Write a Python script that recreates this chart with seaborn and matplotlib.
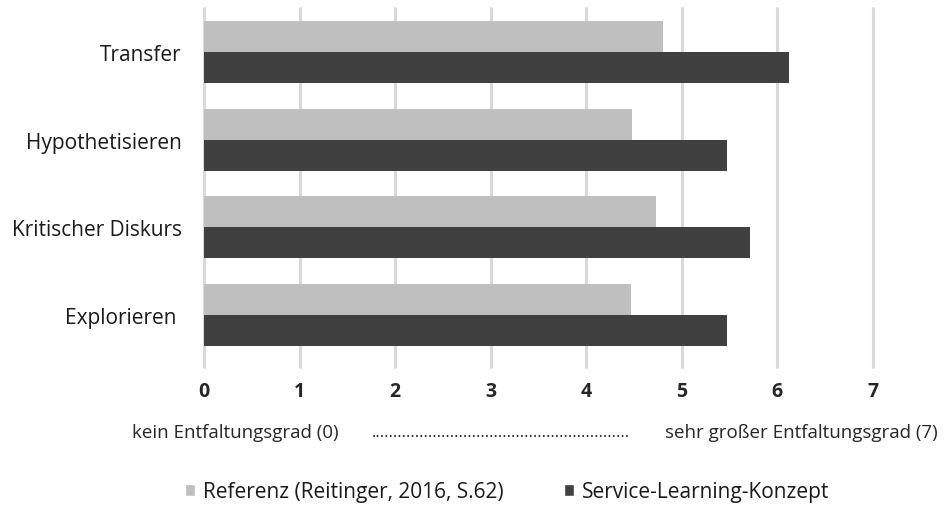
import matplotlib
matplotlib.use("Agg")
import matplotlib.pyplot as plt
import seaborn as sns
import pandas as pd
from matplotlib.patches import Patch

categories = ["Transfer", "Hypothetisieren", "Kritischer Diskurs", "Explorieren "]
series_names = ["Referenz (Reitinger, 2016, S.62)", "Service-Learning-Konzept"]
referenz = [4.80, 4.48, 4.73, 4.47]
service = [6.12, 5.47, 5.71, 5.47]
x_ticks = [0, 1, 2, 3, 4, 5, 6, 7]
colors = ["#BFBFBF", "#404040"]

rows = []
for c, v in zip(categories, referenz):
    rows.append({"cat": c, "val": v, "series": series_names[0]})
for c, v in zip(categories, service):
    rows.append({"cat": c, "val": v, "series": series_names[1]})
df = pd.DataFrame(rows)

sns.set_style("white")
plt.rcParams["font.family"] = ["Open Sans", "DejaVu Sans"]

fig = plt.figure(figsize=(9.46, 5.10), dpi=100)
ax = fig.add_axes([204/946, 1 - 368/510, (873 - 204)/946, (368 - 9)/510])

sns.barplot(data=df, y="cat", x="val", hue="series", order=categories,
            hue_order=series_names, palette=colors, orient="h",
            width=0.707, ax=ax, legend=False, saturation=1, linewidth=0)

ax.set_xlim(0, 7)
ax.set_ylim(3.5 + 8/87.7, -0.5)
ax.set_xticks(x_ticks)
ax.set_xticklabels([str(t) for t in x_ticks], fontsize=14, fontweight="bold", color="#262626")
ax.tick_params(axis="x", length=0, pad=10)
ax.tick_params(axis="y", length=0, pad=16, labelsize=15, labelcolor="#1a1a1a")
ax.set_xlabel("")
ax.set_ylabel("")
ax.grid(axis="x", color="#D9D9D9", linewidth=2.2)
ax.set_axisbelow(True)
for gl in ax.get_xgridlines():
    gl.set_clip_on(False)
for s in ax.spines.values():
    s.set_visible(False)

fig.text(132/946, 1 - 433/510, "kein Entfaltungsgrad (0)", fontsize=13.5, color="#262626", va="center", ha="left")
fig.text(372/946, 1 - 433/510, "." * 59, fontsize=12, color="#262626", va="center", ha="left")
fig.text(938/946, 1 - 433/510, "sehr großer Entfaltungsgrad (7)", fontsize=13.5, color="#262626", va="center", ha="right")

handles = [Patch(facecolor=colors[0], label=series_names[0]),
           Patch(facecolor=colors[1], label=series_names[1])]
fig.legend(handles=handles, loc="center left", bbox_to_anchor=(185/946, 1 - 493/510), ncol=2,
           frameon=False, fontsize=15, handlelength=0.48, handleheight=0.48,
           handletextpad=0.38, columnspacing=2.9, borderpad=0, borderaxespad=0,
           labelcolor="#1a1a1a")

fig.savefig("out.png", dpi=100)
